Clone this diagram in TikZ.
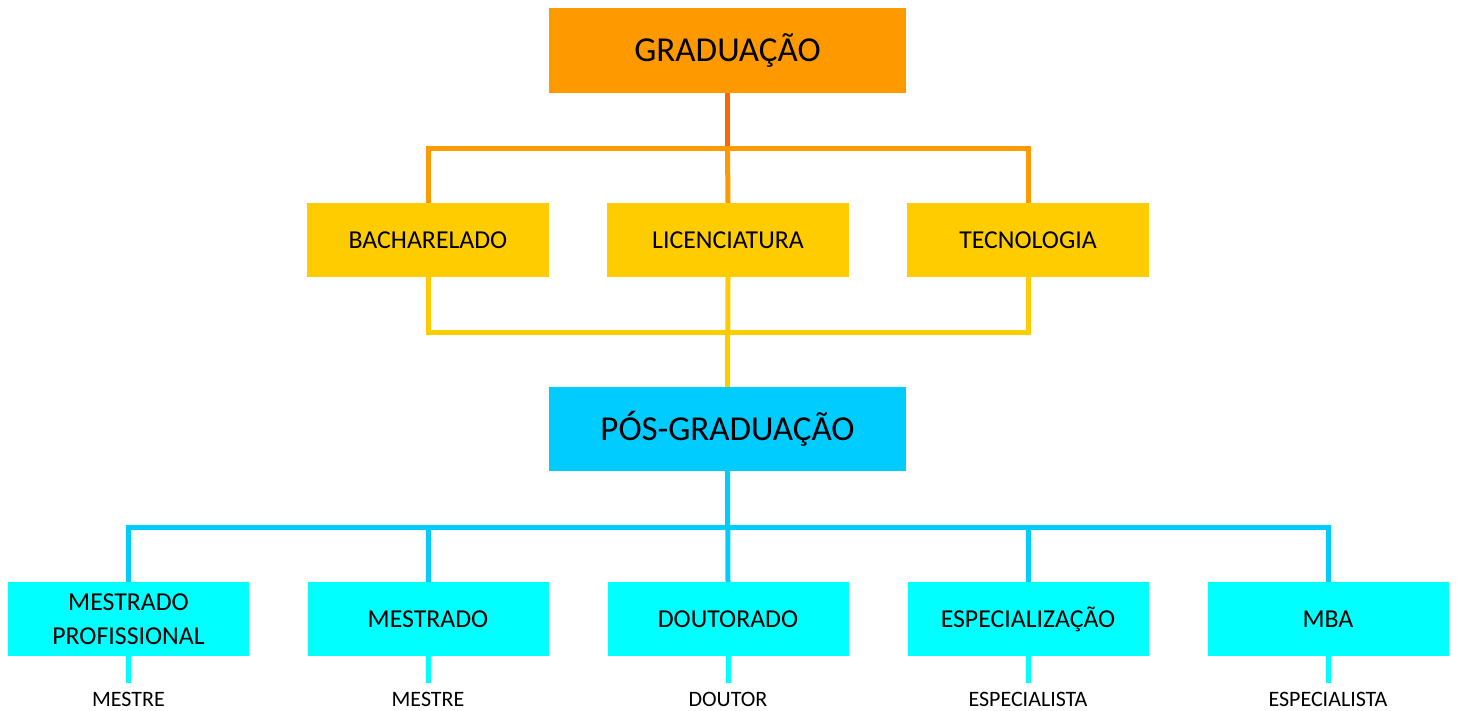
\documentclass[tikz,border=0pt]{standalone}
\usepackage{fontspec}
\setmainfont{Carlito}
\definecolor{cOrange}{HTML}{FF9900}
\definecolor{cDark}{HTML}{FF6600}
\definecolor{cYellow}{HTML}{FFCC00}
\definecolor{cBlue}{HTML}{00CCFF}
\definecolor{cCyan}{HTML}{00FFFF}
\begin{document}
\begin{tikzpicture}[x=1pt,y=-1pt,
  bigbox/.style={minimum width=357pt,minimum height=85pt,inner sep=0pt,font=\fontsize{35}{40}\selectfont},
  midbox/.style={fill=cYellow,minimum width=242pt,minimum height=74pt,inner sep=0pt,font=\fontsize{25.8}{30}\selectfont},
  lowbox/.style={fill=cCyan,minimum width=241pt,minimum height=74pt,inner sep=0pt,align=center,font=\fontsize{25.8}{34}\selectfont},
  lbl/.style={anchor=base,text height=14pt,text depth=4pt,inner xsep=0pt,inner ysep=9pt,font=\fontsize{22}{26}\selectfont},
  conn/.style={line width=5pt,line join=miter}]
\useasboundingbox (0,0) rectangle (1457,710);
\node[bigbox,fill=cOrange] (g) at (727.5,50.5) {GRADUAÇÃO};
\node[midbox] (b) at (428,240) {BACHARELADO};
\node[midbox] (l) at (728,240) {LICENCIATURA};
\node[midbox] (t) at (1028,240) {TECNOLOGIA};
\node[bigbox,fill=cBlue,minimum height=84pt] (p) at (727.5,429) {PÓS-GRADUAÇÃO};
\node[lowbox] (m1) at (128.5,619) {MESTRADO\\PROFISSIONAL};
\node[lowbox] (m2) at (428,619) {MESTRADO};
\node[lowbox] (d) at (728,619) {DOUTORADO};
\node[lowbox] (e) at (1028,619) {ESPECIALIZAÇÃO};
\node[lowbox] (mb) at (1328,619) {MBA};
\node[lbl] (l1) at (128.5,706) {MESTRE};
\node[lbl] (l2) at (428,706) {MESTRE};
\node[lbl] (l3) at (728,706) {DOUTOR};
\node[lbl] (l4) at (1028,706) {ESPECIALISTA};
\node[lbl] (l5) at (1328,706) {ESPECIALISTA};
% orange
\coordinate (oj) at (727.5,148.5);
\draw[conn,cDark] (g.south) -- (oj);
\draw[conn,cOrange] (b.north) |- (oj) -| (t.north);
\draw[conn,cOrange] (oj) -- (l.north);
% yellow
\coordinate (yj) at (727.5,332);
\draw[conn,cYellow] (b.south) |- (yj) -| (t.south);
\draw[conn,cYellow] (l.south) -- (p.north);
% blue
\coordinate (bj) at (727.5,527);
\draw[conn,cBlue] (p.south) -- (d.north);
\draw[conn,cBlue] (m1.north) |- (bj) -| (mb.north);
\draw[conn,cBlue] (m2.north) |- (bj);
\draw[conn,cBlue] (e.north) |- (bj);
% cyan
\draw[conn,cCyan] (m1.south) -- (l1.north);
\draw[conn,cCyan] (m2.south) -- (l2.north);
\draw[conn,cCyan] (d.south) -- (l3.north);
\draw[conn,cCyan] (e.south) -- (l4.north);
\draw[conn,cCyan] (mb.south) -- (l5.north);
\end{tikzpicture}
\end{document}
